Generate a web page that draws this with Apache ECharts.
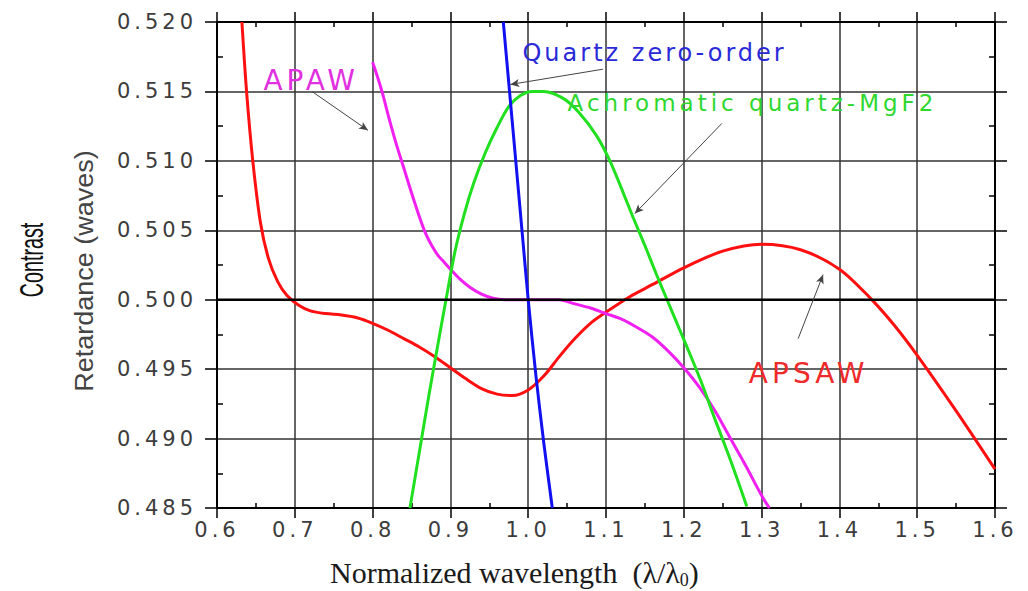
<!DOCTYPE html>
<html><head><meta charset="utf-8">
<script src="https://cdn.jsdelivr.net/npm/echarts@6/dist/echarts.min.js"></script>
<style>
html,body{margin:0;padding:0;background:#fff;}
#c{width:1028px;height:591px;}
#c text[style*="21px"]{letter-spacing:4px;}
#c text[style*="24px"]{letter-spacing:3px;}
#c text[style*="23px"],#c text[style*="28px"]{letter-spacing:4px;}
</style></head><body><div id="c"></div>
<script>
// ---- data (x = normalized wavelength, y = retardance in waves) ----
const apsaw = [[0.632,0.5200],[0.638,0.5150],[0.646,0.5100],[0.656,0.5055],[0.666,0.5030],[0.678,0.5013],[0.690,0.5003],[0.705,0.4996],[0.720,0.4992],[0.740,0.4990],[0.760,0.4989],[0.780,0.4987],[0.800,0.4983],[0.820,0.4978],[0.840,0.4972],[0.860,0.4966],[0.880,0.4959],[0.900,0.4951],[0.920,0.4943],[0.940,0.4936],[0.960,0.4932],[0.980,0.4931],[1.000,0.4935],[1.020,0.4945],[1.040,0.4959],[1.060,0.4972],[1.080,0.4983],[1.100,0.4991],[1.130,0.5002],[1.160,0.5011],[1.200,0.5023],[1.250,0.5035],[1.300,0.5040],[1.350,0.5036],[1.400,0.5022],[1.440,0.5001],[1.470,0.4982],[1.500,0.4960],[1.550,0.4920],[1.600,0.4878]];
const apaw = [[0.800,0.5171],[0.806,0.5161],[0.813,0.5148],[0.820,0.5133],[0.830,0.5113],[0.840,0.5095],[0.850,0.5077],[0.860,0.5060],[0.868,0.5048],[0.876,0.5039],[0.884,0.5032],[0.892,0.5027],[0.900,0.5022],[0.912,0.5015],[0.925,0.5009],[0.940,0.5004],[0.955,0.5001],[0.970,0.5000],[1.000,0.5000],[1.040,0.5000],[1.060,0.4997],[1.080,0.4994],[1.100,0.4990],[1.120,0.4986],[1.140,0.4980],[1.160,0.4973],[1.180,0.4963],[1.200,0.4951],[1.220,0.4937],[1.240,0.4920],[1.260,0.4900],[1.280,0.4880],[1.300,0.4859],[1.310,0.4850]];
const achromatic = [[0.848,0.4850],[0.860,0.4890],[0.872,0.4930],[0.884,0.4968],[0.895,0.5002],[0.906,0.5035],[0.918,0.5062],[0.930,0.5084],[0.945,0.5106],[0.960,0.5124],[0.975,0.5139],[0.990,0.5147],[1.005,0.5150],[1.020,0.5150],[1.045,0.5145],[1.065,0.5135],[1.088,0.5118],[1.105,0.5100],[1.120,0.5080],[1.135,0.5059],[1.150,0.5039],[1.165,0.5018],[1.180,0.4998],[1.195,0.4978],[1.210,0.4958],[1.225,0.4937],[1.240,0.4914],[1.255,0.4892],[1.268,0.4872],[1.281,0.4851]];
const quartz = [[0.968,0.5200],[0.976,0.5150],[0.984,0.5100],[0.992,0.5050],[1.000,0.5000],[1.010,0.4945],[1.020,0.4897],[1.031,0.4850]];
const halfWave = [[0.6,0.500],[1.6,0.500]];

// annotation labels: [x, y, text] (text left edge, vertical middle)
const labelAPAW = [0.659, 0.5158, 'APAW'];
const labelQuartz = [0.992, 0.5178, 'Quartz zero-order'];
const labelAchro = [1.050, 0.5142, 'Achromatic quartz-MgF2'];
const labelAPSAW = [1.283, 0.4947, 'APSAW'];
// arrows: [x1, y1, x2(head), y2(head)]
const arrowAPAW = [0.722, 0.5150, 0.794, 0.5122];
const arrowQuartz = [1.096, 0.5166, 0.977, 0.5155];
const arrowAchro = [1.249, 0.5127, 1.137, 0.5062];
const arrowAPSAW = [1.347, 0.4972, 1.379, 0.5018];

const X_MIN = 0.6, X_MAX = 1.6, X_STEP = 0.1;
const Y_MIN = 0.485, Y_MAX = 0.520, Y_STEP = 0.005;

const chart = echarts.init(document.getElementById('c'), null, {renderer: 'svg'});

function xAx(pos, showLabel, showSplit) {
  return {
    type: 'value', position: pos, min: X_MIN, max: X_MAX, interval: X_STEP,
    axisLine: {show: true, onZero: false, lineStyle: {color: '#000', width: 2}},
    axisTick: {show: true, length: 10, lineStyle: {color: '#000', width: 1.5}},
    minorTick: {show: true, splitNumber: 2, length: -5, lineStyle: {color: '#000', width: 1.5}},
    axisLabel: {show: showLabel, formatter: v => v.toFixed(1), fontFamily: 'DejaVu Sans', fontSize: 21, color: '#3c3c3c', margin: 11},
    splitLine: {show: showSplit, lineStyle: {color: '#333', width: 1.5}},
    minorSplitLine: {show: false}
  };
}
function yAx(pos, showLabel, showSplit) {
  return {
    type: 'value', position: pos, min: Y_MIN, max: Y_MAX, interval: Y_STEP,
    axisLine: {show: true, onZero: false, lineStyle: {color: '#000', width: 2}},
    axisTick: {show: true, length: 12, lineStyle: {color: '#000', width: 1.5}},
    minorTick: {show: true, splitNumber: 2, length: -6, lineStyle: {color: '#000', width: 1.5}},
    axisLabel: {show: showLabel, formatter: v => v.toFixed(3), fontFamily: 'DejaVu Sans', fontSize: 21, color: '#3c3c3c', margin: 20},
    splitLine: {show: showSplit, lineStyle: {color: '#333', width: 1.5}},
    minorSplitLine: {show: false}
  };
}

function lbl(a, color, size) {
  return {
    coord: [a[0], a[1]], symbol: 'circle', symbolSize: 1,
    itemStyle: {color: 'rgba(0,0,0,0)'},
    label: {show: true, position: 'right', distance: 0, formatter: a[2], color: color, fontFamily: 'DejaVu Sans', fontSize: size}
  };
}
function arr(a) {
  return [{coord: [a[0], a[1]]}, {coord: [a[2], a[3]]}];
}

function lineSeries(name, data, color) {
  return {
    name: name, type: 'line', data: data, showSymbol: false, symbol: 'none',
    smooth: 0.3, clip: true,
    lineStyle: {color: color, width: 3}, z: 3
  };
}

const option = {
  animation: false,
  backgroundColor: '#fff',
  grid: {left: 217, right: 33, top: 22, bottom: 83, containLabel: false},
  xAxis: [xAx('bottom', true, true), xAx('top', false, false)],
  yAxis: [yAx('left', true, true), yAx('right', false, false)],
  series: [
    lineSeries('APSAW', apsaw, '#ff1010'),
    lineSeries('APAW', apaw, '#f020f0'),
    lineSeries('Achromatic quartz-MgF2', achromatic, '#20e020'),
    lineSeries('Quartz zero-order', quartz, '#1010f0'),
    {
      name: 'half-wave', type: 'line', data: halfWave, showSymbol: false, symbol: 'none',
      lineStyle: {color: '#000', width: 2.5}, z: 4,
      markLine: {
        silent: true, symbol: ['none', 'arrow'], symbolSize: [6, 9],
        label: {show: false},
        lineStyle: {color: '#444', width: 1, type: 'solid'},
        data: [arr(arrowAPAW), arr(arrowQuartz), arr(arrowAchro), arr(arrowAPSAW)]
      },
      markPoint: {
        silent: true,
        data: [
          lbl(labelAPAW, '#e030e0', 28),
          lbl(labelQuartz, '#2a2ad8', 24),
          lbl(labelAchro, '#2ed82e', 23),
          lbl(labelAPSAW, '#ee2a2a', 28)
        ]
      }
    }
  ],
  graphic: [
    {type: 'text', x: 31, y: 260, rotation: Math.PI / 2, scaleX: 0.58,
     style: {text: 'Contrast', font: '34px "Liberation Sans"', fill: '#111', align: 'center', verticalAlign: 'middle'}},
    {type: 'text', x: 84, y: 271, rotation: Math.PI / 2, scaleX: 1.08,
     style: {text: 'Retardance (waves)', font: '25px "Liberation Sans"', fill: '#444', align: 'center', verticalAlign: 'middle'}},
    {type: 'text', x: 330, y: 572,
     style: {text: '{a|Normalized wavelength  (λ/λ}{s|0}{a|)}', align: 'left', verticalAlign: 'middle',
       rich: {a: {font: '30px "Liberation Serif"', fill: '#1a1a1a', lineHeight: 34},
              s: {font: '18px "Liberation Serif"', fill: '#1a1a1a', verticalAlign: 'bottom', lineHeight: 34}}}}
  ]
};
chart.setOption(option);
</script></body></html>
